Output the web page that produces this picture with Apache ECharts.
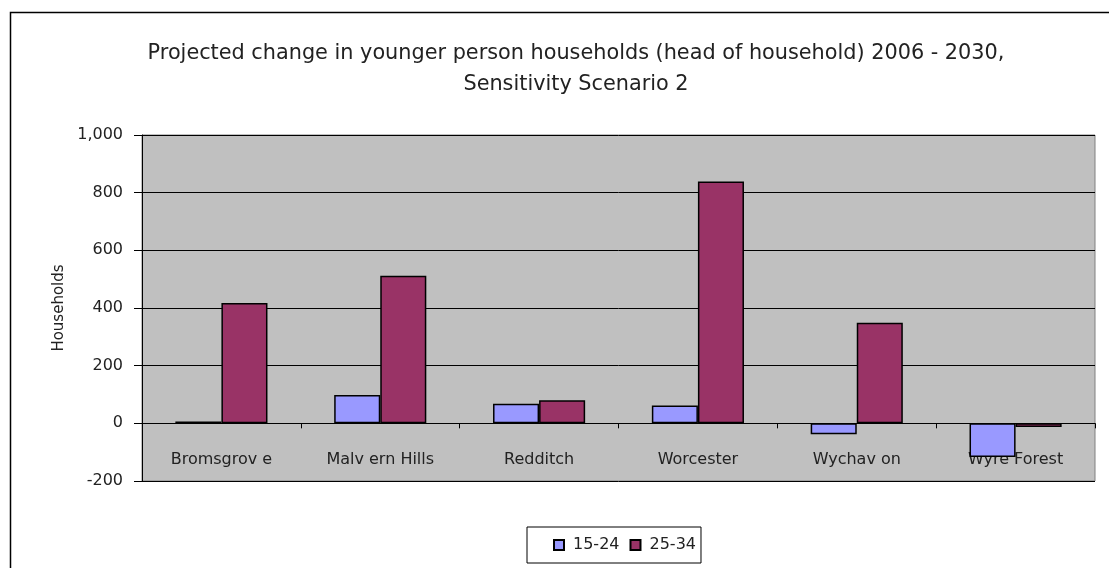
<!DOCTYPE html>
<html>
<head>
<meta charset="utf-8">
<script src="https://cdn.jsdelivr.net/npm/echarts@6/dist/echarts.min.js"></script>
<style>
  html, body { margin: 0; padding: 0; background: #fff; }
  #chart { width: 1109px; height: 568px; }
</style>
</head>
<body>
<div id="chart"></div>
<script>
const categories = ['Bromsgrov e', 'Malv ern Hills', 'Redditch', 'Worcester', 'Wychav on', 'Wyre Forest'];
const age1524 = [6, 98, 68, 62, -38, -117];
const age2534 = [417, 512, 80, 839, 349, -13];
const seriesNames = ['15-24', '25-34'];
const colorList = ['#9999ff', '#993366'];

const fontFamily = 'DejaVu Sans';
let myChart = echarts.init(document.getElementById('chart'));
myChart.setOption({
    animation: false,
    color: colorList,
    textStyle: { fontFamily: fontFamily },
    title: {
        text: 'Projected change in younger person households (head of household) 2006 - 2030,\nSensitivity Scenario 2',
        left: 571,
        textAlign: 'center',
        top: 33,
        textStyle: {
            fontFamily: fontFamily,
            fontSize: 20.8,
            fontWeight: 'normal',
            color: '#222',
            lineHeight: 31
        }
    },
    // outer chart frame (right/bottom edges fall outside the picture)
    graphic: [{
        type: 'rect',
        shape: { x: 10.5, y: 12.5, width: 1120, height: 600 },
        style: { fill: 'none', stroke: '#000', lineWidth: 1.5 },
        silent: true
    }],
    legend: {
        data: seriesNames,
        left: 527,
        top: 527,
        padding: [10, 5, 10, 26],
        borderColor: '#000',
        borderWidth: 1,
        itemWidth: 10,
        itemHeight: 10,
        itemGap: 10,
        icon: 'rect',
        textStyle: { fontFamily: fontFamily, fontSize: 16, color: '#222', padding: [0, 0, 0, 4] }
    },
    grid: {
        left: 142,
        right: 14,
        top: 135,
        bottom: 87,
        show: true,
        backgroundColor: '#c0c0c0',
        borderColor: '#808080',
        borderWidth: 1
    },
    xAxis: {
        type: 'category',
        data: categories,
        axisLine: { onZero: true, lineStyle: { color: '#000', width: 1 } },
        axisTick: { show: true, length: 5, lineStyle: { color: '#000' } },
        axisLabel: { margin: -29, fontSize: 16, color: '#222', fontFamily: fontFamily }
    },
    yAxis: {
        type: 'value',
        name: 'Households',
        nameLocation: 'middle',
        nameGap: 71,
        nameTextStyle: { fontSize: 15, color: '#222', fontFamily: fontFamily },
        min: -200,
        max: 1000,
        interval: 200,
        axisLine: { show: true, lineStyle: { color: '#000' } },
        axisTick: { show: true, length: 8, lineStyle: { color: '#000' } },
        splitLine: { show: true, lineStyle: { color: '#000', width: 1 } },
        axisLabel: {
            fontSize: 16,
            color: '#222',
            margin: 19,
            fontFamily: fontFamily,
            formatter: v => v.toLocaleString('en-US')
        }
    },
    series: [
        {
            name: seriesNames[0],
            type: 'bar',
            data: age1524,
            barGap: '0%',
            barCategoryGap: '42%',
            itemStyle: { color: colorList[0], borderColor: '#000', borderWidth: 1.5 }
        },
        {
            name: seriesNames[1],
            type: 'bar',
            data: age2534,
            barGap: '0%',
            barCategoryGap: '42%',
            itemStyle: { color: colorList[1], borderColor: '#000', borderWidth: 1.5 }
        }
    ]
});
window.addEventListener('resize', () => myChart.resize());
</script>
</body>
</html>
